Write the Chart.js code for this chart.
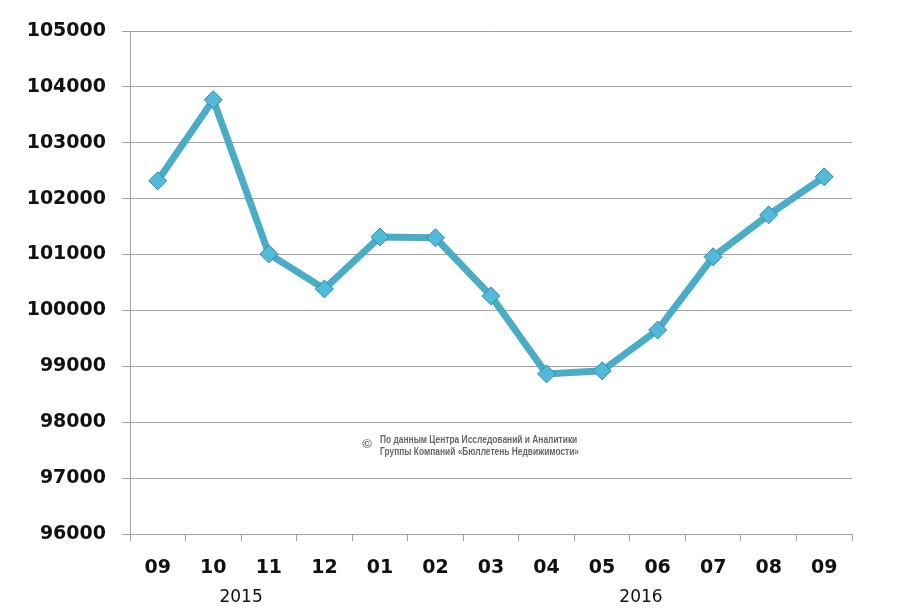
<!DOCTYPE html>
<html>
<head>
<meta charset="utf-8">
<script src="https://cdn.jsdelivr.net/npm/chart.js@4/dist/chart.umd.min.js"></script>
<style>
    html, body { margin: 0; padding: 0; background: #ffffff; }
    #wrap { width: 900px; height: 611px; position: relative; }
</style>
</head>
<body>
<div id="wrap"><canvas id="priceChart"></canvas></div>
<script>
// Data
const months = ['09', '10', '11', '12', '01', '02', '03', '04', '05', '06', '07', '08', '09'];
const prices = [102320, 103770, 101010, 100385, 101315, 101300, 100260, 98865, 98920, 99650, 100960, 101710, 102390];
const yearLabels = ['2015', '2016'];
const noteLines = ['По данным Центра Исследований и Аналитики', 'Группы Компаний «Бюллетень Недвижимости»'];

// Year captions under the month labels + copyright note
const captionsPlugin = {
    id: 'captions',
    afterDraw(chart) {
        const c = chart.ctx;
        const x = chart.scales.x;
        const step = x.getPixelForValue(1) - x.getPixelForValue(0);
        c.save();
        c.fillStyle = '#111';
        c.font = '17px "DejaVu Sans"';
        c.textAlign = 'center';
        c.textBaseline = 'middle';
        c.fillText(yearLabels[0], x.getPixelForValue(1) + step * 0.5, 598);
        c.fillText(yearLabels[1], x.getPixelForValue(8) + step * 0.7, 598);

        c.fillStyle = '#666';
        c.font = 'bold 13px "Liberation Sans"';
        c.fillText('©', 367, 444);
        // squeeze the note a bit, the original uses a narrow face
        c.translate(380, 0);
        c.scale(0.84, 1);
        c.font = 'bold 10px "Liberation Sans"';
        c.textAlign = 'left';
        c.fillText(noteLines[0], 0, 440);
        c.fillText(noteLines[1], 0, 452);
        c.restore();
    }
};

const ctx = document.getElementById('priceChart').getContext('2d');

new Chart(ctx, {
    type: 'line',
    data: {
        labels: months,
        datasets: [{
            data: prices,
            borderColor: '#4BACC6',
            borderWidth: 7,
            tension: 0,
            pointStyle: 'rectRot',
            pointRadius: 9,
            pointHoverRadius: 9,
            pointBackgroundColor: '#52BAD8',
            pointBorderColor: '#2F8DA8',
            pointBorderWidth: 1
        }]
    },
    options: {
        responsive: true,
        maintainAspectRatio: false,
        animation: false,
        layout: {
            padding: { top: 31, right: 48, left: 0, bottom: 0 }
        },
        plugins: {
            legend: { display: false },
            tooltip: { enabled: false }
        },
        scales: {
            y: {
                min: 96000,
                max: 105000,
                afterFit: s => { s.width = 130; },
                border: { display: true, color: '#a0a0a0', width: 1 },
                grid: {
                    color: '#a0a0a0',
                    lineWidth: 1,
                    tickLength: 8
                },
                ticks: {
                    stepSize: 1000,
                    padding: 16,
                    color: '#111',
                    callback: v => String(v),
                    font: { family: 'DejaVu Sans', size: 19, weight: 'bold' }
                }
            },
            x: {
                offset: true,
                afterFit: s => { s.height = 77; },
                border: { display: true, color: '#a0a0a0', width: 1 },
                grid: {
                    offset: true,
                    drawOnChartArea: false,
                    color: '#a0a0a0',
                    tickLength: 7
                },
                ticks: {
                    padding: 16,
                    color: '#111',
                    maxRotation: 0,
                    font: { family: 'DejaVu Sans', size: 19, weight: 'bold' }
                }
            }
        }
    },
    plugins: [captionsPlugin]
});
</script>
</body>
</html>
